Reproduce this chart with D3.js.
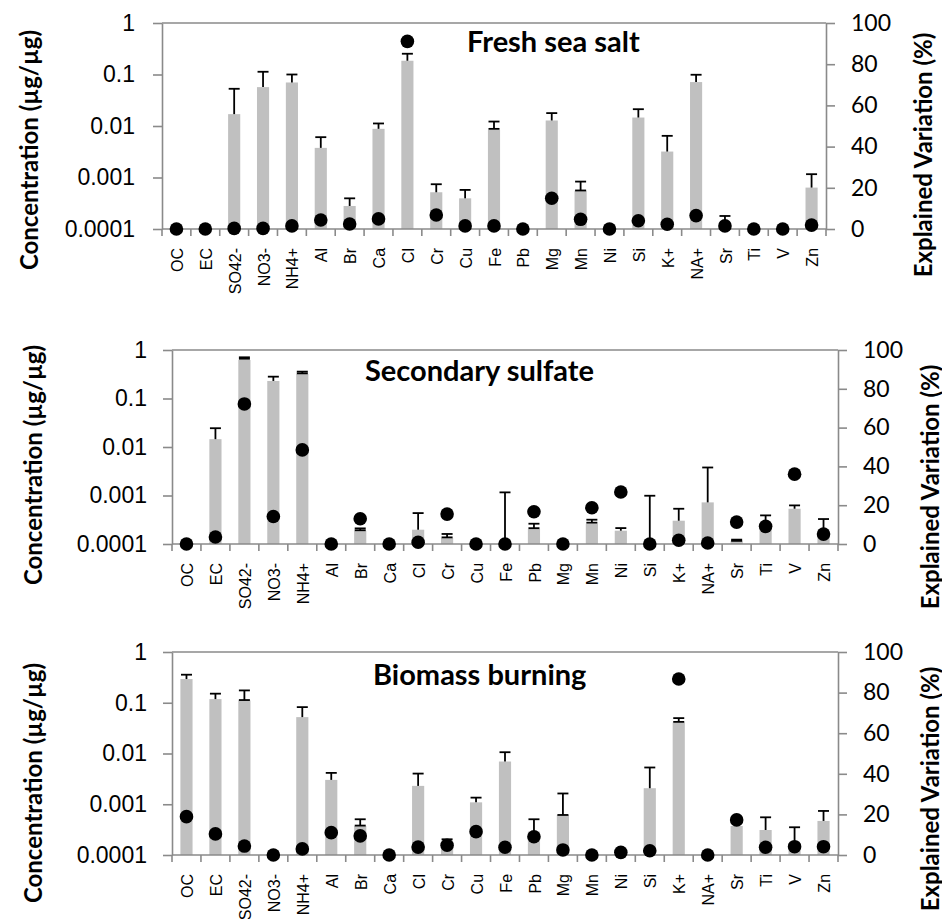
<!DOCTYPE html>
<html>
<head>
<meta charset="utf-8">
<script src="https://cdn.jsdelivr.net/npm/d3@7"></script>
<style>
  html, body { margin: 0; padding: 0; background: #fff; }
  svg { display: block; }
</style>
</head>
<body>
<svg id="chart" width="942" height="919"></svg>
<script>
// Species shown along the x axis of every panel
const species = ["OC","EC","SO42-","NO3-","NH4+","Al","Br","Ca","Cl","Cr","Cu","Fe","Pb","Mg","Mn","Ni","Si","K+","NA+","Sr","Ti","V","Zn"];

// Axis tick values and labels
const concTicks = [0.0001, 0.001, 0.01, 0.1, 1];
const concTickLabels = ["0.0001", "0.001", "0.01", "0.1", "1"];
const evTicks = [0, 20, 40, 60, 80, 100];

// Fresh sea salt: profile concentration, upper/lower error ends, explained variation (%)
const seaSaltConc = [null, null, 0.0170, 0.0569, 0.070, 0.00376, 0.00028, 0.00881, 0.185, 0.000517, 0.000394, 0.00842, null, 0.0128, 0.000557, null, 0.0146, 0.00319, 0.0713, 0.000129, null, null, 0.000637];
const seaSaltHi   = [null, null, 0.0528, 0.113, 0.100, 0.00607, 0.000394, 0.0112, 0.253, 0.00074, 0.000574, 0.0122, null, 0.0178, 0.000833, null, 0.0212, 0.00644, 0.0989, 0.000179, null, null, 0.00116];
const seaSaltLo   = [null, null, null, null, null, null, null, null, null, null, null, 0.0088, null, null, 0.00056, null, null, null, null, null, null, null, null];
const seaSaltEV   = [0, 0, 0.3, 0.3, 1.5, 4.4, 2.4, 4.9, 91.1, 6.8, 1.5, 1.5, 0, 14.9, 4.7, 0, 4.0, 2.3, 6.5, 1.5, 0, 0, 1.9];

// Secondary sulfate
const sulfateConc = [null, 0.0145, 0.622, 0.230, 0.321, null, 0.000188, null, 0.000197, 0.000133, null, 0.0001, 0.000204, null, 0.000262, 0.000188, 0.0001, 0.000302, 0.000721, 0.000115, 0.00022, 0.000533, 0.000139];
const sulfateHi   = [null, 0.0244, 0.707, 0.282, 0.358, null, 0.00021, null, 0.000434, 0.000161, null, 0.00116, 0.000262, null, 0.000317, 0.000213, 0.000989, 0.000533, 0.00378, 0.000123, 0.000389, 0.000625, 0.000327];
const sulfateLo   = [null, null, 0.66, null, 0.33, null, 0.000192, null, null, 0.000137, null, null, 0.000212, null, 0.000275, null, null, null, null, 0.000116, null, null, null];
const sulfateEV   = [0, 3.6, 72.2, 14.2, 48.5, 0, 13.0, 0, 0.9, 15.4, 0, 0, 16.6, 0, 18.7, 26.8, 0, 1.9, 0.5, 11.3, 9.1, 36.0, 5.1];

// Biomass burning
const biomassConc = [0.293, 0.118, 0.111, null, 0.0521, 0.00302, 0.000373, null, 0.0023, 0.000183, 0.00109, 0.00695, 0.000289, 0.000615, null, null, 0.00207, 0.0409, null, 0.000373, 0.000311, 0.00017, 0.000469];
const biomassHi   = [0.357, 0.151, 0.175, null, 0.082, 0.00415, 0.000506, null, 0.00402, 0.000204, 0.00135, 0.0106, 0.000506, 0.00163, null, null, 0.0053, 0.0498, null, null, 0.000553, 0.000352, 0.000738];
const biomassLo   = [null, null, 0.113, null, null, null, 0.00038, null, null, null, null, null, null, 0.000615, null, null, null, 0.042, null, null, null, null, null];
const biomassEV   = [18.9, 10.4, 4.4, 0, 3.0, 11.0, 9.4, 0, 3.9, 4.8, 11.5, 3.8, 9.0, 2.5, 0, 1.3, 2.1, 86.7, 0, 17.3, 3.8, 4.1, 4.1];

const panels = [
  { title: "Fresh sea salt", conc: seaSaltConc, hi: seaSaltHi, lo: seaSaltLo, ev: seaSaltEV,
    x0: 162, x1: 826, y0: 23, y1: 229, titleX: 467, titleY: 52,
    leftTitle: [28, 150], rightTitle: [922, 155], tickPad: 18 },
  { title: "Secondary sulfate", conc: sulfateConc, hi: sulfateHi, lo: sulfateLo, ev: sulfateEV,
    x0: 172, x1: 838, y0: 350, y1: 544, titleX: 365, titleY: 381,
    leftTitle: [32, 465], rightTitle: [929, 487], tickPad: 16 },
  { title: "Biomass burning", conc: biomassConc, hi: biomassHi, lo: biomassLo, ev: biomassEV,
    x0: 172, x1: 838, y0: 652, y1: 855, titleX: 373, titleY: 685,
    leftTitle: [32, 783], rightTitle: [929, 789], tickPad: 16 }
];

const axisColor = "#8a8a8a";
const barColor = "#c0c0c0";
const calibriLike = "Lato, 'Open Sans', sans-serif";
const arialLike = "'Liberation Sans', Arial, sans-serif";
const svg = d3.select("#chart");
const r1 = v => Math.round(v * 10) / 10;

panels.forEach(p => {
  const g = svg.append("g");
  const x = d3.scaleBand().domain(species).range([p.x0, p.x1]).paddingInner(0).paddingOuter(0);
  const y = d3.scaleLog().domain([0.0001, 1]).range([p.y1, p.y0]);
  const yr = d3.scaleLinear().domain([0, 100]).range([p.y1, p.y0]);
  const bw = x.bandwidth() * 0.42;
  const cx = s => x(s) + x.bandwidth() / 2;

  const rows = species.map((s, i) => ({ s, c: p.conc[i], hi: p.hi[i], lo: p.lo[i], ev: p.ev[i] }));

  // bars
  g.selectAll("rect.bar").data(rows.filter(d => d.c != null)).join("rect")
    .attr("class", "bar")
    .attr("x", d => cx(d.s) - bw / 2)
    .attr("width", bw)
    .attr("y", d => y(d.c))
    .attr("height", d => p.y1 - y(d.c))
    .attr("fill", barColor);

  // error bars
  const eb = rows.filter(d => d.hi != null);
  const cap = 5.5;
  const eg = g.append("g").attr("stroke", "#000").attr("stroke-width", 1.8).attr("fill", "none");
  eg.selectAll("line.stem").data(eb).join("line")
    .attr("class", "stem")
    .attr("x1", d => cx(d.s)).attr("x2", d => cx(d.s))
    .attr("y1", d => y(d.lo != null ? d.lo : (d.c != null ? d.c : 0.0001)))
    .attr("y2", d => y(d.hi));
  eg.selectAll("line.cap").data(eb).join("line")
    .attr("class", "cap")
    .attr("x1", d => cx(d.s) - cap).attr("x2", d => cx(d.s) + cap)
    .attr("y1", d => y(d.hi)).attr("y2", d => y(d.hi));
  eg.selectAll("line.lcap").data(eb.filter(d => d.lo != null)).join("line")
    .attr("class", "lcap")
    .attr("x1", d => cx(d.s) - cap).attr("x2", d => cx(d.s) + cap)
    .attr("y1", d => y(d.lo)).attr("y2", d => y(d.lo));

  // frame top line
  g.append("line").attr("x1", p.x0).attr("x2", p.x1).attr("y1", p.y0).attr("y2", p.y0)
    .attr("stroke", axisColor).attr("stroke-width", 1.6);

  // left log axis
  const la = g.append("g").attr("transform", `translate(${p.x0},0)`)
    .call(d3.axisLeft(y).tickValues(concTicks).tickFormat((d, i) => concTickLabels[i])
      .tickSize(9).tickSizeOuter(0).tickPadding(p.tickPad));
  la.select(".domain").attr("stroke", axisColor).attr("stroke-width", 1.6);
  la.selectAll(".tick line").attr("stroke", axisColor).attr("stroke-width", 1.6);
  la.selectAll(".tick text").attr("font-family", arialLike).attr("font-size", 23).attr("fill", "#000");

  // right linear axis
  const ra = g.append("g").attr("transform", `translate(${p.x1},0)`)
    .call(d3.axisRight(yr).tickValues(evTicks).tickSize(9).tickSizeOuter(0).tickPadding(16));
  ra.select(".domain").attr("stroke", axisColor).attr("stroke-width", 1.6);
  ra.selectAll(".tick line").attr("stroke", axisColor).attr("stroke-width", 1.6);
  ra.selectAll(".tick text").attr("font-family", calibriLike).attr("font-size", 23).attr("fill", "#000");

  // bottom category axis line
  g.append("line").attr("x1", p.x0).attr("x2", p.x1).attr("y1", p.y1).attr("y2", p.y1)
    .attr("stroke", axisColor).attr("stroke-width", 1.6);
  // category boundary ticks
  const bounds = species.map(s => x(s)).concat([p.x1]);
  g.selectAll("line.btick").data(bounds).join("line")
    .attr("class", "btick")
    .attr("x1", d => d).attr("x2", d => d)
    .attr("y1", p.y1).attr("y2", p.y1 + 7)
    .attr("stroke", axisColor).attr("stroke-width", 1.6);

  // vertical category labels, read bottom-to-top, top end 19px under the axis
  g.selectAll("text.cat").data(species).join("text")
    .attr("class", "cat")
    .attr("text-anchor", "middle").attr("dominant-baseline", "central")
    .attr("font-family", arialLike).attr("font-size", 16).attr("fill", "#000")
    .text(s => s)
    .each(function (s) {
      const len = this.getComputedTextLength();
      d3.select(this).attr("transform",
        "translate(" + r1(cx(s) + 1) + "," + r1(p.y1 + 19 + len / 2) + ") rotate(-90)");
    });

  // explained variation dots
  g.selectAll("circle.ev").data(rows).join("circle")
    .attr("class", "ev")
    .attr("cx", d => cx(d.s)).attr("cy", d => yr(d.ev)).attr("r", 6.8).attr("fill", "#000");

  // panel title
  g.append("text").attr("x", p.titleX).attr("y", p.titleY)
    .attr("font-family", calibriLike).attr("font-weight", "bold")
    .attr("font-size", 29).attr("fill", "#000").text(p.title);

  // axis titles
  g.append("text")
    .attr("transform", `translate(${p.leftTitle[0]},${p.leftTitle[1]}) rotate(-90)`)
    .attr("text-anchor", "middle").attr("dominant-baseline", "central")
    .attr("font-family", calibriLike).attr("font-weight", "bold")
    .attr("font-size", 24).attr("fill", "#000").text("Concentration (µg/µg)");
  g.append("text")
    .attr("transform", `translate(${p.rightTitle[0]},${p.rightTitle[1]}) rotate(-90)`)
    .attr("text-anchor", "middle").attr("dominant-baseline", "central")
    .attr("font-family", calibriLike).attr("font-weight", "bold")
    .attr("font-size", 24).attr("fill", "#000").text("Explained Variation (%)");
});
</script>
</body>
</html>
